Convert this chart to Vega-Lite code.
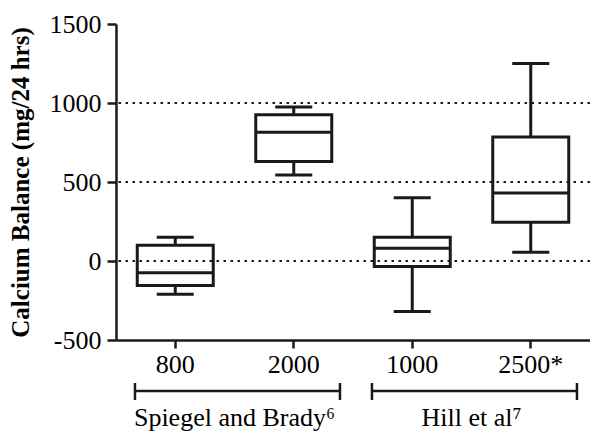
{
  "$schema": "https://vega.github.io/schema/vega-lite/v6.json",
  "width": 474,
  "height": 316,
  "autosize": {"type": "none"},
  "padding": {"left": 116, "top": 24, "right": 0, "bottom": 93},
  "background": "white",
  "datasets": {
    "refs": [{"ref": 0}, {"ref": 500}, {"ref": 1000}],
    "boxes": [
      {"dose": "800", "study": "Spiegel and Brady⁶", "lower": -210, "q1": -155, "median": -75, "q3": 100, "upper": 150},
      {"dose": "2000", "study": "Spiegel and Brady⁶", "lower": 545, "q1": 630, "median": 815, "q3": 925, "upper": 975},
      {"dose": "1000", "study": "Hill et al⁷", "lower": -320, "q1": -35, "median": 80, "q3": 150, "upper": 400},
      {"dose": "2500*", "study": "Hill et al⁷", "lower": 55, "q1": 245, "median": 430, "q3": 785, "upper": 1250}
    ],
    "brackets": [
      {"study": "Spiegel and Brady⁶", "first": "800", "last": "2000"},
      {"study": "Hill et al⁷", "first": "1000", "last": "2500*"}
    ]
  },
  "config": {
    "view": {"stroke": null},
    "font": "Liberation Serif, Times New Roman, serif",
    "axis": {
      "domainColor": "#1a1a1a",
      "domainWidth": 2.5,
      "tickColor": "#1a1a1a",
      "tickWidth": 2.5,
      "tickSize": 9,
      "labelFont": "Liberation Serif, Times New Roman, serif",
      "labelFontSize": 26,
      "labelColor": "#000",
      "grid": false,
      "titleFont": "Liberation Serif, Times New Roman, serif",
      "titleFontWeight": "bold",
      "titleFontSize": 25,
      "titleColor": "#000"
    }
  },
  "layer": [
    {
      "data": {"name": "refs"},
      "mark": {"type": "rule", "strokeDash": [2.5, 4.5], "strokeWidth": 2, "color": "#1a1a1a"},
      "encoding": {
        "y": {
          "field": "ref",
          "type": "quantitative",
          "scale": {"domain": [-500, 1500], "nice": false, "zero": false},
          "axis": {
            "title": "Calcium Balance (mg/24 hrs)",
            "values": [-500, -250, 0, 250, 500, 750, 1000, 1250, 1500],
            "labelExpr": "'' + datum.value",
            "labelPadding": 6,
            "titlePadding": 16
          }
        }
      }
    },
    {
      "data": {"name": "boxes"},
      "encoding": {
        "x": {
          "field": "dose",
          "type": "nominal",
          "sort": null,
          "scale": {"domain": ["800", "2000", "1000", "2500*"], "paddingInner": 0, "paddingOuter": 0},
          "axis": {"title": null, "labelAngle": 0, "labelPadding": 3, "tickSize": 8}
        }
      },
      "layer": [
        {
          "mark": {"type": "rule", "strokeWidth": 3, "color": "#1a1a1a"},
          "encoding": {
            "y": {"field": "lower", "type": "quantitative", "title": "Calcium Balance (mg/24 hrs)"},
            "y2": {"field": "q1"}
          }
        },
        {
          "mark": {"type": "rule", "strokeWidth": 3, "color": "#1a1a1a"},
          "encoding": {
            "y": {"field": "q3", "type": "quantitative", "title": "Calcium Balance (mg/24 hrs)"},
            "y2": {"field": "upper"}
          }
        },
        {
          "mark": {"type": "bar", "size": 76, "filled": false, "stroke": "#1a1a1a", "strokeWidth": 3},
          "encoding": {
            "y": {"field": "q1", "type": "quantitative", "title": "Calcium Balance (mg/24 hrs)"},
            "y2": {"field": "q3"}
          }
        },
        {
          "mark": {"type": "tick", "size": 76, "thickness": 3, "color": "#1a1a1a", "opacity": 1},
          "encoding": {
            "y": {"field": "median", "type": "quantitative", "title": "Calcium Balance (mg/24 hrs)"}
          }
        },
        {
          "mark": {"type": "tick", "size": 37, "thickness": 3, "color": "#1a1a1a", "opacity": 1},
          "encoding": {
            "y": {"field": "lower", "type": "quantitative", "title": "Calcium Balance (mg/24 hrs)"}
          }
        },
        {
          "mark": {"type": "tick", "size": 37, "thickness": 3, "color": "#1a1a1a", "opacity": 1},
          "encoding": {
            "y": {"field": "upper", "type": "quantitative", "title": "Calcium Balance (mg/24 hrs)"}
          }
        }
      ]
    },
    {
      "data": {"name": "brackets"},
      "layer": [
        {
          "mark": {"type": "rule", "strokeWidth": 2.5, "color": "#1a1a1a"},
          "encoding": {
            "x": {"field": "first", "type": "nominal", "bandPosition": 0.16},
            "x2": {"field": "last", "bandPosition": 0.89},
            "y": {"datum": -823}
          }
        },
        {
          "mark": {"type": "rule", "strokeWidth": 2.5, "color": "#1a1a1a"},
          "encoding": {
            "x": {"field": "first", "type": "nominal", "bandPosition": 0.16},
            "y": {"datum": -772},
            "y2": {"datum": -880}
          }
        },
        {
          "mark": {"type": "rule", "strokeWidth": 2.5, "color": "#1a1a1a"},
          "encoding": {
            "x": {"field": "last", "type": "nominal", "bandPosition": 0.89},
            "y": {"datum": -772},
            "y2": {"datum": -880}
          }
        },
        {
          "mark": {"type": "text", "fontSize": 26, "font": "Liberation Serif, Times New Roman, serif", "color": "#000", "align": "center", "baseline": "alphabetic"},
          "encoding": {
            "x": {"field": "first", "type": "nominal", "bandPosition": 1},
            "y": {"datum": -1045},
            "text": {"field": "study"}
          }
        }
      ]
    }
  ]
}
